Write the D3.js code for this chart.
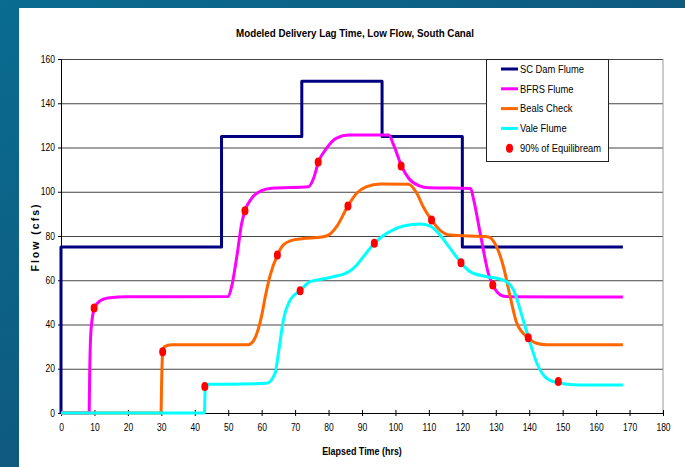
<!DOCTYPE html>
<html>
<head>
<meta charset="utf-8">
<script src="https://cdn.jsdelivr.net/npm/d3@7"></script>
<style>
  body { margin: 0; padding: 0; }
  svg text { font-family: "Liberation Sans", Arial, sans-serif; }
</style>
</head>
<body>
<script>
// series data, [hours, cfs]
var damPts = [[0,0],[0,75],[48,75],[48,125],[72,125],[72,150],[96,150],[96,125],[120,125],[120,75],[168,75]];

var bfrsPts = [[0,0],[8.4,0],[8.6,20],[9,38],[10,47.5],[11.5,50.5],[14,52],[20,52.5],[50,52.6],[51,57],[52.7,72],
  [54,85.5],[55,91.4],[57,97],[60,100.5],[63,101.6],[74,102.3],[75.5,106],[77,113.5],[79.4,119.6],[82.4,124.2],
  [86,125.6],[98,125.7],[99.5,121],[101.9,111.4],[104,106],[107,102.8],[110,101.8],[122.5,101.5],[123.3,97],
  [125.5,80],[127.8,63],[129.1,58],[130.5,54.5],[133,52.6],[168,52.4]];

var bealsPts = [[0,0],[29.9,0],[30.1,15],[30.4,27.7],[31,30],[33,30.8],[56,30.9],[57.5,32.5],[59,38],[60,44],
  [61,52],[62.5,62],[64.7,71.4],[66.5,76],[69,78],[72,78.8],[78,79.5],[80.4,80.8],[82.4,84.2],[85.8,93.6],
  [88.4,99.3],[91.4,102.3],[95.4,103.5],[103.9,103.4],[106.4,99.3],[108.3,93.2],[110.8,87.2],[113.3,82.7],
  [116.3,80.4],[127.8,79.6],[130.3,75],[132.3,66.1],[134.3,52.6],[136.3,40.5],[139.7,34],[142.2,31.5],
  [145.2,30.8],[168,30.8]];

var valePts = [[0,0],[42.9,0],[43.1,11],[44,13],[50,13],[61.5,13.4],[64,17.9],[65,27],[66.5,42],[68.5,51],
  [71.5,55.3],[74.5,59.4],[78.4,60.6],[82,61.8],[84.5,62.8],[86.5,64.3],[88.5,67],[90.4,70.6],[93.7,76.7],
  [97.4,81.2],[102.4,84.5],[107.4,85.4],[110.3,84.6],[113.3,80.5],[116.3,74.5],[119.6,67.9],[122.3,63.9],
  [127.3,61.6],[132.3,60.1],[135.3,55.6],[138.2,42],[140.3,31.5],[142.3,22.5],[145.2,15.7],[148.7,13.6],
  [155.2,12.7],[168,12.6]];

// 90% of equilibrium markers
var eqPts = [[9.9,47.5],[55,91.4],[76.9,113.4],[101.7,111.6],[129.1,57.9],
  [30.4,27.7],[64.7,71.4],[85.8,93.6],[110.8,87.2],[139.7,34],
  [43,12],[71.5,55.3],[93.7,76.7],[119.6,67.9],[148.7,14.2]];

var seriesNames = ["SC Dam Flume", "BFRS Flume", "Beals Check", "Vale Flume", "90% of Equilibream"];
var seriesColors = ["#000080", "#ff00ff", "#ff6600", "#00ffff", "#ff0000"];
var xTicks = d3.range(0, 181, 10);
var yTicks = d3.range(0, 161, 20);

var w = 685, h = 467;
var pLeft = 61, pRight = 663, pTop = 59, pBottom = 413;

// squeeze text a bit, the original font is narrow
function condense(sel, k) {
  sel.each(function() {
    var len = this.getComputedTextLength();
    d3.select(this).attr("textLength", len * k).attr("lengthAdjust", "spacingAndGlyphs");
  });
}

var svg = d3.select("body").append("svg")
  .attr("width", w)
  .attr("height", h);

// blue frame background
var grad = svg.append("defs").append("linearGradient")
  .attr("id", "bg").attr("x1", "0").attr("y1", "0").attr("x2", "1").attr("y2", "1");
grad.append("stop").attr("offset", "0").attr("stop-color", "#0a6c91");
grad.append("stop").attr("offset", "1").attr("stop-color", "#13496d");
svg.append("rect").attr("width", w).attr("height", h).attr("fill", "url(#bg)");
svg.append("rect").attr("x", 19).attr("y", 8).attr("width", w - 19).attr("height", h - 8).attr("fill", "#fff");

var x = d3.scaleLinear().domain([0, 180]).range([pLeft, pRight]);
var y = d3.scaleLinear().domain([0, 160]).range([pBottom, pTop]);

// gridlines
svg.append("g")
  .attr("transform", "translate(" + pLeft + ",0)")
  .call(d3.axisLeft(y).tickValues(yTicks.slice(1)).tickSize(-(pRight - pLeft)).tickFormat(""))
  .call(function(g) {
    g.select(".domain").remove();
    g.selectAll("line").attr("stroke", "#444").attr("stroke-width", 1);
  });

// right edge of plot area
svg.append("line")
  .attr("x1", pRight).attr("x2", pRight).attr("y1", pTop).attr("y2", pBottom)
  .attr("stroke", "#999");

// axes
svg.append("g")
  .attr("transform", "translate(" + pLeft + ",0)")
  .call(d3.axisLeft(y).tickValues(yTicks).tickSize(3).tickPadding(3))
  .call(function(g) {
    g.selectAll("text").attr("font-size", 10).attr("fill", "#000").call(condense, 0.85);
    g.selectAll("line, path").attr("stroke", "#000");
  });

svg.append("g")
  .attr("transform", "translate(0," + pBottom + ")")
  .call(d3.axisBottom(x).tickValues(xTicks).tickSize(3).tickPadding(8))
  .call(function(g) {
    g.selectAll(".tick line").attr("y1", -3);
    g.selectAll("text").attr("font-size", 10).attr("fill", "#000").call(condense, 0.85);
    g.selectAll("line, path").attr("stroke", "#000");
  });

// lines
var straight = d3.line().x(function(d) { return x(d[0]); }).y(function(d) { return y(d[1]); });
var smooth = d3.line().x(function(d) { return x(d[0]); }).y(function(d) { return y(d[1]); })
  .curve(d3.curveMonotoneX);

var lines = [damPts, bfrsPts, bealsPts, valePts];
lines.forEach(function(pts, i) {
  svg.append("path")
    .datum(pts)
    .attr("fill", "none")
    .attr("stroke", seriesColors[i])
    .attr("stroke-width", 3)
    .attr("stroke-linejoin", "round")
    .attr("d", i == 0 ? straight : smooth);
});

// red markers
svg.selectAll("ellipse.eq")
  .data(eqPts)
  .enter()
  .append("ellipse")
  .attr("class", "eq")
  .attr("cx", function(d) { return x(d[0]); })
  .attr("cy", function(d) { return y(d[1]); })
  .attr("rx", 3.5)
  .attr("ry", 4.5)
  .attr("fill", "#ff0000");

// legend
var lg = svg.append("g");
lg.append("rect")
  .attr("x", 486.5).attr("y", 59.5).attr("width", 122).attr("height", 102)
  .attr("fill", "#fff").attr("stroke", "#222");

var items = lg.selectAll("g.item")
  .data(seriesNames)
  .enter()
  .append("g")
  .attr("class", "item")
  .attr("transform", function(d, i) { return "translate(0," + (69 + i * 19.8) + ")"; });

items.filter(function(d, i) { return i < 4; })
  .append("line")
  .attr("x1", 501).attr("x2", 518)
  .attr("stroke", function(d, i) { return seriesColors[i]; })
  .attr("stroke-width", 3);

items.filter(function(d, i) { return i == 4; })
  .append("ellipse")
  .attr("cx", 509.5).attr("rx", 3.5).attr("ry", 4.5)
  .attr("fill", "#ff0000");

items.append("text")
  .attr("x", 520)
  .attr("dy", "0.35em")
  .attr("font-size", 11)
  .text(function(d) { return d; })
  .call(condense, 0.85);

// titles
svg.append("text")
  .attr("x", 355).attr("y", 37)
  .attr("text-anchor", "middle")
  .attr("font-size", 11.5).attr("font-weight", "bold")
  .text("Modeled Delivery Lag Time, Low Flow, South Canal")
  .call(condense, 0.85);

svg.append("text")
  .attr("x", 362).attr("y", 455)
  .attr("text-anchor", "middle")
  .attr("font-size", 10.5).attr("font-weight", "bold")
  .text("Elapsed Time (hrs)")
  .call(condense, 0.85);

svg.append("text")
  .attr("transform", "translate(39,237) rotate(-90)")
  .attr("text-anchor", "middle")
  .attr("font-size", 10.5).attr("font-weight", "bold")
  .attr("letter-spacing", 2)
  .text("Flow (cfs)");
</script>
</body>
</html>
